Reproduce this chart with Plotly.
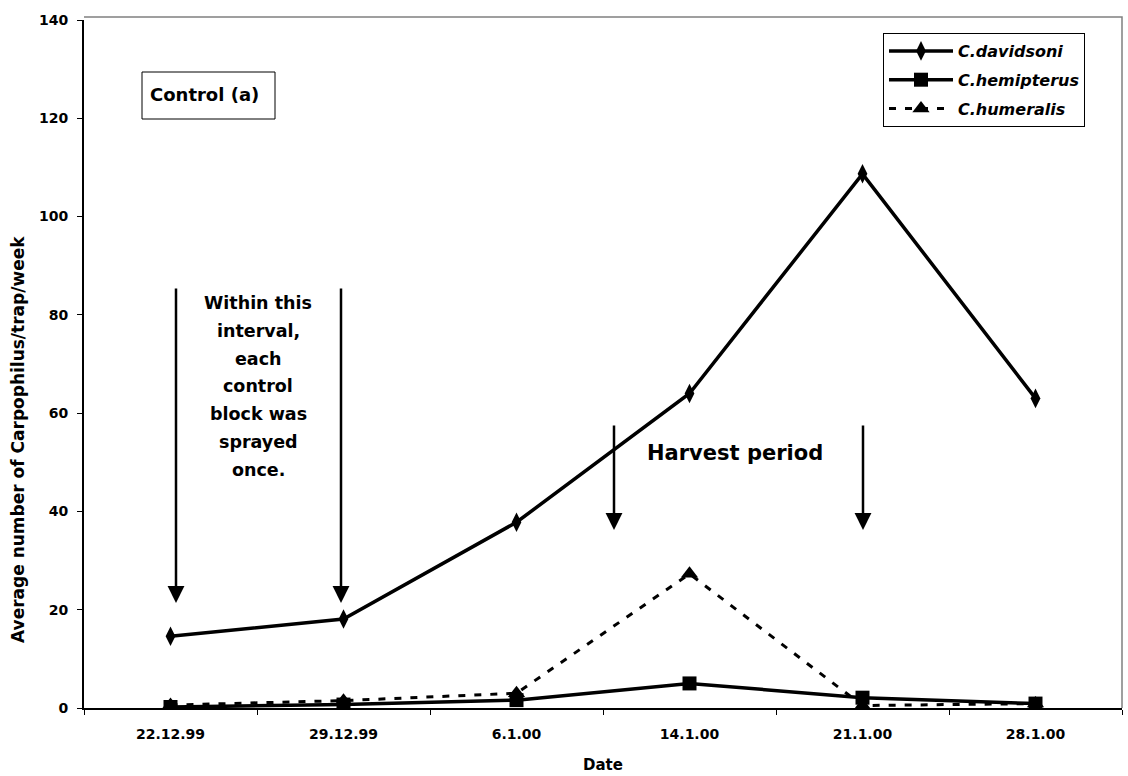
import plotly.graph_objects as go

dates = ["22.12.99", "29.12.99", "6.1.00", "14.1.00", "21.1.00", "28.1.00"]
davidsoni = [14.6, 18.1, 37.8, 64.0, 108.7, 63.0]
hemipterus = [0.2, 0.7, 1.6, 5.0, 2.1, 0.9]
humeralis = [0.6, 1.5, 3.0, 27.3, 0.5, 0.9]

y_ticks = [0, 20, 40, 60, 80, 100, 120, 140]

FONT = "DejaVu Sans"
L, R, T, B = 84, 1122, 20, 708


def px_x(x):
    return (x - L) / (R - L)


def px_y(y):
    return (B - y) / (B - T)


def idx(x):
    return (x - L) / ((R - L) / len(dates)) - 0.5


def val(y):
    return (B - y) / (B - T) * 140


fig = go.Figure()

fig.add_trace(go.Scatter(
    x=dates, y=humeralis, name="C.humeralis", mode="lines+markers",
    line=dict(color="black", width=3, dash="7px,9px"),
    marker=dict(symbol="triangle-up", size=15, color="black"),
    legendgroup="c", legendrank=3,
))
fig.add_trace(go.Scatter(
    x=dates, y=hemipterus, name="C.hemipterus", mode="lines+markers",
    line=dict(color="black", width=3.5),
    marker=dict(symbol="square", size=14, color="black"),
    legendgroup="b", legendrank=2,
))
fig.add_trace(go.Scatter(
    x=dates, y=davidsoni, name="C.davidsoni", mode="lines+markers",
    line=dict(color="black", width=3.5),
    marker=dict(symbol="diamond-tall", size=14, color="black"),
    legendgroup="a", legendrank=1,
))

annotations = []
# arrows
for xp, ytip, ytail in [(176, 603, 287), (341, 603, 287), (614, 530, 424), (863, 530, 424)]:
    annotations.append(dict(
        x=idx(xp), y=val(ytip), xref="x", yref="y",
        ax=0, ay=-(ytip - ytail), axref="pixel", ayref="pixel",
        showarrow=True, arrowhead=2, arrowsize=1.35, arrowwidth=2.5,
        arrowcolor="black", text="",
    ))

note_lines = ["Within this", "interval,", "each", "control", "block was", "sprayed", "once."]
for i, line in enumerate(note_lines):
    annotations.append(dict(
        x=px_x(258), y=px_y(303 + i * 27.8), xref="paper", yref="paper",
        text=line, showarrow=False, xanchor="center", yanchor="middle",
        font=dict(family=FONT, size=17.5, color="black", weight="bold"),
    ))

annotations.append(dict(
    x=px_x(735), y=px_y(453), xref="paper", yref="paper",
    text="Harvest period", showarrow=False, xanchor="center", yanchor="middle",
    font=dict(family=FONT, size=21, color="black", weight="bold"),
))

annotations.append(dict(
    x=px_x(204), y=px_y(95), xref="paper", yref="paper",
    text="Control (a)", showarrow=False, xanchor="center", yanchor="middle",
    font=dict(family=FONT, size=18, color="black", weight="bold"),
))

# y-axis title placed as rotated annotation
annotations.append(dict(
    x=px_x(18), y=px_y(440), xref="paper", yref="paper",
    text="Average number of Carpophilus/trap/week", textangle=-90,
    showarrow=False, xanchor="center", yanchor="middle",
    font=dict(family=FONT, size=17, color="black", weight="bold"),
))

shapes = [
    dict(type="rect", xref="paper", yref="paper",
         x0=px_x(142), x1=px_x(275), y0=px_y(119), y1=px_y(72),
         line=dict(color="black", width=1), fillcolor="white", layer="below"),
    dict(type="path", xref="paper", yref="paper",
         path=f"M {px_x(84)} {px_y(17)} L {px_x(1122)} {px_y(17)} L {px_x(1122)} {px_y(708)}",
         line=dict(color="#808080", width=1.5), layer="below"),
]

fig.update_layout(
    width=1128, height=776,
    margin=dict(l=L, r=1128 - R, t=T, b=776 - B),
    paper_bgcolor="white", plot_bgcolor="white",
    font=dict(family=FONT, color="black"),
    annotations=annotations, shapes=shapes,
    legend=dict(
        x=px_x(883), y=px_y(33), xanchor="left", yanchor="top",
        bordercolor="black", borderwidth=1, bgcolor="white",
        font=dict(family=FONT, size=16, color="black", weight="bold", style="italic"),
        traceorder="grouped", tracegroupgap=5, itemwidth=64,
    ),
    xaxis=dict(
        type="category", categoryorder="array", categoryarray=dates,
        range=[-0.5, len(dates) - 0.5], tickson="boundaries",
        ticks="outside", ticklen=5, tickcolor="black", tickwidth=1,
        showline=True, linecolor="black", linewidth=2, showgrid=False,
        tickfont=dict(family=FONT, size=14, color="black", weight="bold"),
        ticklabelstandoff=12,
        title=dict(text="Date", font=dict(family=FONT, size=15, color="black", weight="bold"), standoff=19),
    ),
    yaxis=dict(
        range=[0, 140], tickvals=y_ticks,
        ticks="outside", ticklen=5, tickcolor="black", tickwidth=1,
        showline=True, linecolor="black", linewidth=2, showgrid=False, zeroline=False,
        tickfont=dict(family=FONT, size=14, color="black", weight="bold"),
        ticklabelstandoff=6,
    ),
)

fig.write_html("out.html")
